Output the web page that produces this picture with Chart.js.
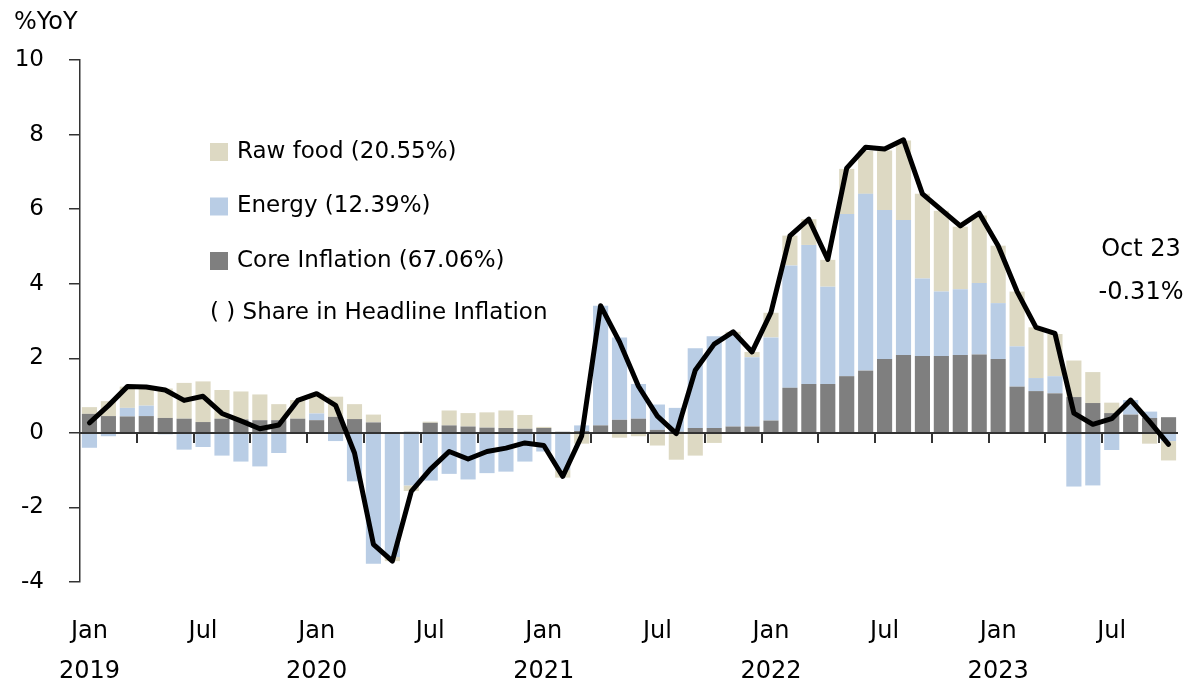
<!DOCTYPE html>
<html>
<head>
<meta charset="utf-8">
<script src="https://cdn.jsdelivr.net/npm/chart.js@4.4.0/dist/chart.umd.min.js"></script>
<style>
  html, body { margin: 0; padding: 0; background: #fff; }
  canvas { display: block; }
</style>
</head>
<body>
<canvas id="cpiChart" width="1191" height="683"></canvas>
<script>
// Thai headline CPI and contributions, Jan 2019 - Oct 2023 (%YoY)
var monthNames = ["Jan", "Feb", "Mar", "Apr", "May", "Jun", "Jul", "Aug", "Sep", "Oct", "Nov", "Dec"];
var years = [2019, 2020, 2021, 2022, 2023];
var months = [];
years.forEach(function (y) {
    monthNames.forEach(function (m, i) {
        if (y === 2023 && i > 9) return;
        months.push(m + " " + y);
    });
});

var headline = [
    0.27, 0.73, 1.24, 1.23, 1.15, 0.87, 0.98, 0.52, 0.32, 0.11, 0.21, 0.87,
    1.05, 0.74, -0.54, -2.99, -3.44, -1.57, -0.98, -0.50, -0.70, -0.50, -0.41, -0.27,
    -0.34, -1.17, -0.08, 3.41, 2.44, 1.25, 0.45, -0.02, 1.68, 2.38, 2.71, 2.17,
    3.23, 5.28, 5.73, 4.65, 7.10, 7.66, 7.61, 7.86, 6.41, 5.98, 5.55, 5.89,
    5.02, 3.79, 2.83, 2.67, 0.53, 0.23, 0.38, 0.88, 0.30, -0.31
];
var core = [
    0.51, 0.45, 0.44, 0.45, 0.40, 0.38, 0.29, 0.38, 0.36, 0.34, 0.34, 0.38,
    0.34, 0.43, 0.37, 0.28, 0.00, 0.03, 0.27, 0.20, 0.17, 0.14, 0.13, 0.11,
    0.13, 0.03, 0.05, 0.20, 0.35, 0.38, 0.08, 0.03, 0.13, 0.13, 0.17, 0.17,
    0.33, 1.21, 1.31, 1.31, 1.52, 1.67, 1.98, 2.09, 2.06, 2.06, 2.09, 2.10,
    1.98, 1.24, 1.12, 1.06, 0.96, 0.80, 0.53, 0.49, 0.40, 0.42
];
var energy = [
    -0.40, -0.09, 0.23, 0.28, -0.04, -0.45, -0.38, -0.61, -0.77, -0.90, -0.54, 0.00,
    0.18, -0.22, -1.30, -3.51, -3.33, -1.41, -1.28, -1.10, -1.25, -1.08, -1.04, -0.77,
    -0.50, -1.00, 0.15, 3.21, 2.21, 0.93, 0.68, 0.64, 2.14, 2.46, 2.46, 1.86,
    2.23, 3.28, 3.73, 2.61, 4.35, 4.74, 4.00, 3.62, 2.08, 1.73, 1.76, 1.92,
    1.50, 1.08, 0.35, 0.46, -1.44, -1.41, -0.46, 0.39, 0.17, -0.22
];
var rawFood = [
    0.18, 0.40, 0.57, 0.50, 0.79, 0.96, 1.09, 0.77, 0.75, 0.69, 0.43, 0.50,
    0.53, 0.54, 0.40, 0.21, -0.11, -0.15, 0.03, 0.40, 0.36, 0.41, 0.47, 0.37,
    0.03, -0.20, -0.29, 0.00, -0.13, -0.09, -0.34, -0.72, -0.61, -0.27, 0.08, 0.14,
    0.66, 0.80, 0.69, 0.72, 1.21, 1.16, 1.59, 2.13, 2.27, 2.17, 1.68, 1.81,
    1.54, 1.47, 1.36, 1.13, 0.98, 0.83, 0.28, 0.00, -0.29, -0.52
];

var yTicks = [-4, -2, 0, 2, 4, 6, 8, 10];
var legendNote = "( ) Share in Headline Inflation";
var lastNote = ["Oct 23", "-0.31%"];

var axisColor = "#333333";
var fontFamily = "'DejaVu Sans', sans-serif";

Chart.defaults.font.family = fontFamily;
Chart.defaults.color = "#000";

// zero line with a small tick every third month boundary
function drawZeroAxis(chart) {
    var x = chart.scales.x, y = chart.scales.y;
    var y0 = Math.round(y.getPixelForValue(0));
    var step = (x.right - x.left) / months.length;
    var c = chart.ctx;
    c.save();
    c.strokeStyle = axisColor;
    c.lineWidth = 2;
    c.beginPath();
    c.moveTo(x.left, y0);
    c.lineTo(x.right, y0);
    c.stroke();
    c.beginPath();
    for (var i = 3; i < months.length; i += 3) {
        var px = Math.round(x.getPixelForValue(i) - step / 2);
        c.moveTo(px, y0);
        c.lineTo(px, y0 + 10);
    }
    c.stroke();
    c.restore();
}

// draws the zero axis once the bars are done, just before the headline line
var zeroAxis = {
    id: "zeroAxis",
    afterDatasetDraw: function (chart, args) {
        if (args.index === 0) drawZeroAxis(chart);
    }
};

// text drawn over the plot: unit, legend, last value note
var overlayText = {
    id: "overlayText",
    afterDraw: function (chart) {
        var c = chart.ctx;
        c.save();
        c.fillStyle = "#000";
        c.textBaseline = "middle";
        c.textAlign = "left";
        c.font = "24px " + fontFamily;
        c.fillText("%YoY", 14, 23);

        // legend rows: raw food, energy, core
        var order = [2, 1, 0];
        var rowY = [152, 206.5, 261];
        c.font = "23px " + fontFamily;
        order.forEach(function (di, r) {
            var ds = chart.data.datasets[di];
            c.fillStyle = ds.backgroundColor;
            c.fillRect(210, rowY[r] - 9, 18, 18);
            c.fillStyle = "#000";
            c.fillText(ds.label, 237, rowY[r]);
        });
        c.fillText(legendNote, 210, 313);

        c.textAlign = "center";
        c.font = "24px " + fontFamily;
        c.fillText(lastNote[0], 1141, 250);
        c.fillText(lastNote[1], 1141, 293);
        c.restore();
    }
};

var chart = new Chart(document.getElementById("cpiChart"), {
    type: "bar",
    data: {
        labels: months,
        datasets: [
            {
                label: "Core Inflation (67.06%)",
                data: core,
                backgroundColor: "#7f7f7f",
                order: 1
            },
            {
                label: "Energy (12.39%)",
                data: energy,
                backgroundColor: "#b9cde5",
                order: 1
            },
            {
                label: "Raw food (20.55%)",
                data: rawFood,
                backgroundColor: "#ddd9c3",
                order: 1
            },
            {
                type: "line",
                label: "Headline",
                data: headline,
                stack: "headline",
                borderColor: "#000",
                borderWidth: 5,
                borderJoinStyle: "round",
                borderCapStyle: "round",
                pointRadius: 0,
                tension: 0,
                fill: false,
                order: 0
            }
        ]
    },
    options: {
        responsive: false,
        animation: false,
        barPercentage: 0.8,
        categoryPercentage: 1.0,
        layout: { padding: { top: 60, right: 13, left: 0, bottom: 0 } },
        plugins: {
            legend: { display: false },
            tooltip: { enabled: false }
        },
        scales: {
            x: {
                stacked: true,
                offset: true,
                grid: { display: false },
                border: { display: false },
                ticks: {
                    autoSkip: false,
                    maxRotation: 0,
                    padding: 22,
                    font: { size: 24, lineHeight: 1.667 },
                    callback: function (value, index) {
                        var parts = months[index].split(" ");
                        if (parts[0] === "Jan") return [parts[0], parts[1]];
                        if (parts[0] === "Jul") return parts[0];
                        return "";
                    }
                },
                afterFit: function (scale) { scale.height = 101; }
            },
            y: {
                stacked: true,
                min: -4,
                max: 10,
                afterBuildTicks: function (scale) {
                    scale.ticks = yTicks.map(function (v) { return { value: v }; });
                },
                grid: {
                    drawOnChartArea: false,
                    drawTicks: true,
                    tickLength: 11,
                    lineWidth: 1.5,
                    color: axisColor
                },
                border: { display: true, color: axisColor, width: 1.5 },
                ticks: {
                    padding: 25,
                    font: { size: 23 }
                },
                afterFit: function (scale) { scale.width = 80; }
            }
        }
    },
    plugins: [zeroAxis, overlayText]
});
</script>
</body>
</html>
